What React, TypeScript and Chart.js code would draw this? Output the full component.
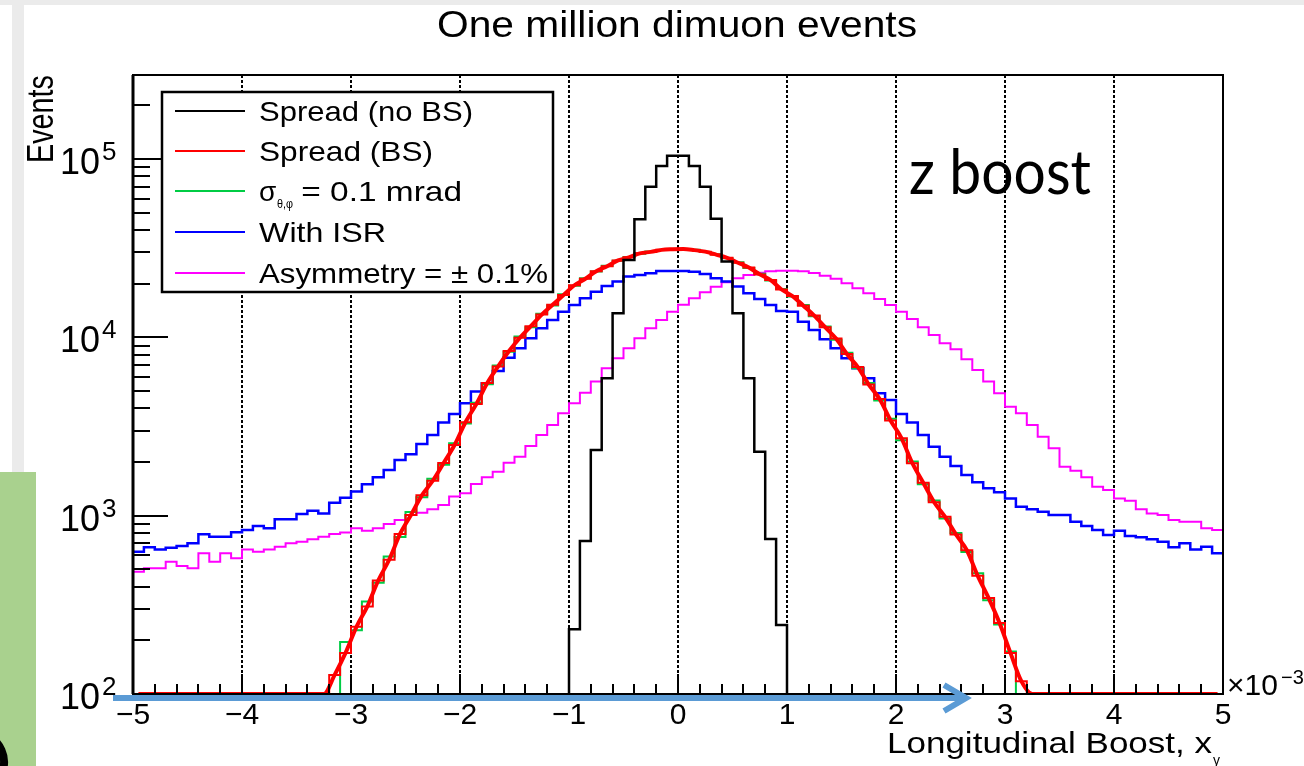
import React, { useEffect, useRef } from 'react';
import { Chart, registerables } from 'chart.js';

Chart.register(...registerables);

const W = 1304;
const H = 766;
const FONT = '"Liberation Sans", Arial, Helvetica, sans-serif';

// ---- axes ----
const X_MIN = -5;
const X_MAX = 5;
const BIN_WIDTH = 0.1;
const Y_MIN = 100;
const Y_MAX = 2.96e5;
const X_TICKS = [-5, -4, -3, -2, -1, 0, 1, 2, 3, 4, 5];
const Y_DECADES = [100, 1000, 10000, 100000];
const Y_EXPONENTS = ['2', '3', '4', '5'];

// ---- texts ----
const TITLE = 'One million dimuon events';
const X_TITLE = 'Longitudinal Boost, x';
const X_TITLE_SUB = 'γ';
const Y_TITLE = 'Events';
const X_MULTIPLIER = '×10';
const X_MULTIPLIER_EXP = '−3';
const ANNOTATION = 'z boost';
const SERIES_NAMES = ['Spread (no BS)', 'Spread (BS)', 'σ', 'With ISR', 'Asymmetry = ± 0.1%'];
const SIGMA_SUB = 'θ,φ';
const SIGMA_REST = ' = 0.1 mrad';
const SERIES_COLORS = ['#000000', '#ff0000', '#00cc44', '#0000ff', '#ff00ff'];

// ---- histogram contents, 100 bins of 0.1 from -5 to 5 (x10^-3) ----
const SPREAD_NO_BS = [
  0, 0, 0, 0, 0, 0, 0, 0, 0, 0,
  0, 0, 0, 0, 0, 0, 0, 0, 0, 0,
  0, 0, 0, 0, 0, 0, 0, 0, 0, 0,
  0, 0, 0, 0, 0, 0, 0, 0, 0, 0,
  231, 721, 2335, 5900, 13650, 27150, 45900, 70000, 91400, 104500,
  104500, 91400, 70000, 46200, 26600, 13650, 5900, 2285, 740, 244,
  0, 0, 0, 0, 0, 0, 0, 0, 0, 0,
  0, 0, 0, 0, 0, 0, 0, 0, 0, 0,
  0, 0, 0, 0, 0, 0, 0, 0, 0, 0,
  0, 0, 0, 0, 0, 0, 0, 0, 0, 0,
];

const SPREAD_BS = [
  0, 0, 0, 0, 0, 0, 0, 0, 0, 0,
  0, 0, 0, 0, 0, 0, 0, 0, 128, 170,
  238, 310, 433, 566, 790, 1010, 1300, 1570, 1975, 2490,
  3340, 4230, 5540, 6870, 8380, 9950, 11550, 13420, 15220, 17300,
  19600, 21300, 23500, 25050, 26990, 28100, 29600, 30150, 30950, 31200,
  31300, 30850, 30250, 29100, 27950, 26200, 24650, 22550, 20950, 18550,
  17050, 15050, 13250, 11400, 9840, 8060, 6810, 5440, 4510, 3420,
  2720, 1970, 1530, 1190, 985, 785, 640, 460, 345, 250,
  170, 118, 0, 0, 0, 0, 0, 0, 0, 0,
  0, 0, 0, 0, 0, 0, 0, 0, 0, 0,
];

const SIGMA_01 = [
  0, 0, 0, 0, 0, 0, 0, 0, 0, 0,
  0, 0, 0, 0, 0, 0, 0, 0, 0, 196,
  228, 330, 420, 590, 760, 1050, 1270, 1610, 1930, 2550,
  3290, 4300, 5450, 6950, 8300, 10100, 11400, 13550, 15100, 17450,
  19450, 21450, 23400, 25200, 26850, 28250, 29450, 30300, 30850, 31300,
  31250, 30950, 30150, 29250, 27800, 26350, 24500, 22700, 20850, 18700,
  16950, 15200, 13150, 11500, 9700, 8200, 6700, 5550, 4430, 3500,
  2650, 2010, 1500, 1215, 965, 800, 625, 475, 335, 245,
  173, 0, 0, 0, 0, 0, 0, 0, 0, 0,
  0, 0, 0, 0, 0, 0, 0, 0, 0, 0,
];

const WITH_ISR = [
  628, 665, 647, 661, 676, 700, 787, 762, 762, 807,
  832, 875, 849, 955, 955, 1023, 1067, 1030, 1183, 1262,
  1365, 1500, 1641, 1803, 2051, 2208, 2523, 2838, 3327, 3715,
  4266, 4966, 5521, 6486, 7691, 8690, 9886, 11246, 12531, 13932,
  15205, 16558, 18030, 19409, 20559, 21928, 22387, 22856, 23550, 23550,
  23550, 23335, 22646, 21429, 20559, 19275, 17701, 16406, 15205, 14060,
  13932, 12246, 10990, 9750, 8690, 7638, 6714, 5902, 4853, 4457,
  3715, 3327, 2838, 2438, 2143, 1901, 1690, 1538, 1426, 1352,
  1250, 1122, 1086, 1052, 1009, 1009, 925, 875, 832, 780,
  824, 769, 757, 738, 714, 665, 700, 647, 670, 615,
];

const ASYMMETRY = [
  485, 507, 507, 552, 522, 507, 615, 552, 615, 577,
  647, 628, 647, 670, 700, 714, 738, 762, 789, 804,
  849, 824, 849, 897, 946, 1009, 1040, 1086, 1148, 1279,
  1334, 1507, 1641, 1766, 1982, 2143, 2460, 2838, 3228, 3750,
  4266, 4898, 5649, 6714, 7638, 8690, 9886, 11246, 12531, 13932,
  15240, 16558, 17906, 19231, 20370, 21429, 22387, 23067, 23496, 23659,
  23659, 23496, 22961, 22182, 21281, 20091, 18836, 17660, 16406, 15205,
  13932, 12677, 11402, 10304, 9268, 8570, 7534, 6561, 5649, 4853,
  4083, 3750, 3228, 2773, 2388, 1884, 1786, 1641, 1455, 1393,
  1250, 1213, 1086, 1030, 1009, 946, 925, 925, 849, 832,
];

const edge = (i: number) => Math.round((X_MIN + i * BIN_WIDTH) * 1000) / 1000;

function histPoints(vals: number[], keepZeros: boolean) {
  const pts: { x: number; y: number }[] = [];
  if (keepZeros) {
    vals.forEach((v, i) => pts.push({ x: edge(i), y: Math.max(v, Y_MIN) }));
    pts.push({ x: X_MAX, y: Math.max(vals[vals.length - 1], Y_MIN) });
    return pts;
  }
  const first = vals.findIndex((v) => v > 0);
  let last = vals.length - 1;
  while (last >= 0 && !(vals[last] > 0)) last--;
  pts.push({ x: edge(first), y: Y_MIN });
  for (let i = first; i <= last; i++) pts.push({ x: edge(i), y: Math.max(vals[i], Y_MIN) });
  pts.push({ x: edge(last + 1), y: Y_MIN });
  return pts;
}

function curvePoints(vals: number[]) {
  return vals.map((v, i) => ({ x: edge(i) + BIN_WIDTH / 2, y: Math.max(v, Y_MIN) }));
}

function fillFit(
  ctx: CanvasRenderingContext2D,
  text: string,
  x: number,
  y: number,
  font: string,
  width?: number,
  align: CanvasTextAlign = 'left',
  sy = 1
) {
  ctx.save();
  ctx.font = font;
  const w = ctx.measureText(text).width;
  const sx = width ? width / w : 1;
  ctx.translate(x, y);
  ctx.scale(sx, sy);
  ctx.textAlign = align;
  ctx.textBaseline = 'alphabetic';
  ctx.fillText(text, 0, 0);
  ctx.restore();
}

const decor = {
  id: 'decor',
  beforeDraw(chart: any) {
    const ctx: CanvasRenderingContext2D = chart.ctx;
    ctx.save();
    ctx.fillStyle = '#ffffff';
    ctx.fillRect(0, 0, W, H);
    ctx.fillStyle = '#ebebeb';
    ctx.fillRect(0, 0, W, 5);
    ctx.fillRect(12, 0, 12, 472);
    ctx.fillStyle = '#a9d18e';
    ctx.fillRect(0, 472, 36, H - 472);
    ctx.strokeStyle = '#000';
    ctx.lineWidth = 8;
    ctx.beginPath();
    ctx.arc(-25, 762, 29, -Math.PI / 2.6, Math.PI / 2.6);
    ctx.stroke();
    ctx.restore();
  },
  beforeDatasetsDraw(chart: any) {
    const ctx: CanvasRenderingContext2D = chart.ctx;
    const a = chart.chartArea;
    const xs = chart.scales.x;
    ctx.save();
    ctx.strokeStyle = '#000';
    ctx.lineWidth = 2;
    ctx.setLineDash([3, 2]);
    for (const v of X_TICKS) {
      if (v <= X_MIN || v >= X_MAX) continue;
      const px = Math.round(xs.getPixelForValue(v));
      ctx.beginPath();
      ctx.moveTo(px, a.top);
      ctx.lineTo(px, a.bottom);
      ctx.stroke();
    }
    ctx.restore();
  },
  afterDatasetsDraw(chart: any) {
    const ctx: CanvasRenderingContext2D = chart.ctx;
    const a = chart.chartArea;
    const xs = chart.scales.x;
    const ys = chart.scales.y;
    ctx.save();
    ctx.fillStyle = '#000';
    ctx.strokeStyle = '#000';

    // x ticks (inside, upward)
    ctx.lineWidth = 2;
    for (let k = 0; k <= 50; k++) {
      const v = X_MIN + k * 0.2;
      const px = Math.round(xs.getPixelForValue(v));
      const major = k % 5 === 0;
      ctx.beginPath();
      ctx.moveTo(px, a.bottom);
      ctx.lineTo(px, a.bottom - (major ? 20 : 10));
      ctx.stroke();
    }
    // y ticks (inside, to the right)
    Y_DECADES.forEach((d) => {
      for (let m = 1; m <= 9; m++) {
        const v = d * m;
        if (v > Y_MAX) break;
        const py = Math.round(ys.getPixelForValue(v));
        ctx.beginPath();
        ctx.moveTo(a.left, py);
        ctx.lineTo(a.left + (m === 1 ? 35 : 17), py);
        ctx.stroke();
      }
    });

    // frame
    ctx.lineWidth = 2;
    ctx.strokeRect(a.left, a.top, a.right - a.left, a.bottom - a.top);
    ctx.lineWidth = 3;
    ctx.beginPath();
    ctx.moveTo(a.left, a.top);
    ctx.lineTo(a.left, a.bottom);
    ctx.stroke();

    // y tick labels 10^n
    Y_DECADES.forEach((d, i) => {
      const py = ys.getPixelForValue(d);
      fillFit(ctx, '10', 60, py + 15, `37px ${FONT}`, 40);
      fillFit(ctx, Y_EXPONENTS[i], 102, py + 1, `26px ${FONT}`);
    });

    // x multiplier
    fillFit(ctx, X_MULTIPLIER, a.right + 4, a.bottom + 1, `30px ${FONT}`);
    fillFit(ctx, X_MULTIPLIER_EXP, a.right + 58, a.bottom - 10, `20px ${FONT}`);

    // axis titles
    fillFit(ctx, X_TITLE, 887, 753, `30px ${FONT}`, 325);
    fillFit(ctx, X_TITLE_SUB, 1213, 765, `14px ${FONT}`);
    ctx.save();
    ctx.translate(53, 163);
    ctx.rotate(-Math.PI / 2);
    fillFit(ctx, Y_TITLE, 0, 0, `29px ${FONT}`, 88, 'left', 1.3);
    ctx.restore();

    // title
    fillFit(ctx, TITLE, 437, 37, `36px ${FONT}`, 480);

    // legend
    const lx = 162, ly = 92, lw = 391, lh = 200;
    ctx.fillStyle = '#fff';
    ctx.fillRect(lx, ly, lw, lh);
    ctx.strokeStyle = '#000';
    ctx.lineWidth = 2.5;
    ctx.strokeRect(lx, ly, lw, lh);
    const rows = [111, 151, 191, 232, 273];
    rows.forEach((ry, i) => {
      ctx.strokeStyle = SERIES_COLORS[i];
      ctx.lineWidth = 2;
      ctx.beginPath();
      ctx.moveTo(175, ry);
      ctx.lineTo(245, ry);
      ctx.stroke();
      ctx.fillStyle = '#000';
      if (i === 2) {
        fillFit(ctx, SERIES_NAMES[i], 259, ry + 10, `28px ${FONT}`);
        fillFit(ctx, SIGMA_SUB, 277, ry + 17, `13px ${FONT}`, 16);
        fillFit(ctx, SIGMA_REST, 292, ry + 10, `28px ${FONT}`, 170);
      } else {
        const widths = [214, 174, 0, 127, 289];
        fillFit(ctx, SERIES_NAMES[i], 259, ry + 10, `28px ${FONT}`, widths[i]);
      }
    });

    // annotation
    ctx.fillStyle = '#000';
    fillFit(ctx, ANNOTATION, 909, 194, `62px Lato, "Open Sans", sans-serif`, 182);

    // arrow
    ctx.strokeStyle = '#5b9bd5';
    ctx.lineWidth = 6;
    ctx.lineCap = 'butt';
    ctx.beginPath();
    ctx.moveTo(113, 698);
    ctx.lineTo(962, 698);
    ctx.stroke();
    ctx.lineJoin = 'miter';
    ctx.beginPath();
    ctx.moveTo(944, 685);
    ctx.lineTo(966, 698);
    ctx.lineTo(944, 711);
    ctx.stroke();

    ctx.restore();
  },
};

export default function App() {
  const ref = useRef<HTMLCanvasElement>(null);
  useEffect(() => {
    if (!ref.current) return;
    const common = { pointRadius: 0, fill: false, borderJoinStyle: 'miter' as const };
    const chart = new Chart(ref.current, {
      type: 'line',
      data: {
        datasets: [
          { label: SERIES_NAMES[0], data: histPoints(SPREAD_NO_BS, false), borderColor: SERIES_COLORS[0], borderWidth: 2.5, stepped: 'before', ...common },
          { label: 'Spread (BS) fit', data: curvePoints(SPREAD_BS), borderColor: SERIES_COLORS[1], borderWidth: 4, tension: 0.4, cubicInterpolationMode: 'monotone', ...common },
          { label: SERIES_NAMES[1], data: histPoints(SPREAD_BS, true), borderColor: SERIES_COLORS[1], borderWidth: 2, stepped: 'before', ...common },
          { label: 'σ = 0.1 mrad', data: histPoints(SIGMA_01, false), borderColor: SERIES_COLORS[2], borderWidth: 2, stepped: 'before', ...common },
          { label: SERIES_NAMES[3], data: histPoints(WITH_ISR, true), borderColor: SERIES_COLORS[3], borderWidth: 2.5, stepped: 'before', ...common },
          { label: SERIES_NAMES[4], data: histPoints(ASYMMETRY, true), borderColor: SERIES_COLORS[4], borderWidth: 2, stepped: 'before', ...common },
        ] as any,
      },
      options: {
        responsive: false,
        animation: false,
        devicePixelRatio: 1,
        events: [],
        layout: { padding: { left: 0, top: 75, right: 81, bottom: 0 } },
        plugins: {
          legend: { display: false },
          tooltip: { enabled: false },
          title: { display: false },
        },
        scales: {
          x: {
            type: 'linear',
            min: X_MIN,
            max: X_MAX,
            afterBuildTicks: (s: any) => {
              s.ticks = X_TICKS.map((v) => ({ value: v }));
            },
            ticks: {
              callback: (v: any) => (Number(v) < 0 ? '\u2212' + Math.abs(Number(v)) : String(v)),
              font: { family: FONT, size: 30 },
              color: '#000',
              padding: 4,
              maxRotation: 0,
              autoSkip: false,
            },
            grid: { display: false, drawTicks: false },
            border: { display: false },
            afterFit: (s: any) => {
              s.height = 72;
            },
          },
          y: {
            type: 'logarithmic',
            min: Y_MIN,
            max: Y_MAX,
            ticks: { display: false },
            grid: { display: false, drawTicks: false },
            border: { display: false },
            afterFit: (s: any) => {
              s.width = 133;
            },
          },
        },
      } as any,
      plugins: [decor],
    });
    return () => chart.destroy();
  }, []);
  return (
    <div style={{ position: 'fixed', left: 0, top: 0, width: W, height: H, background: '#fff' }}>
      <canvas ref={ref} width={W} height={H} style={{ display: 'block', width: W, height: H }} />
    </div>
  );
}
